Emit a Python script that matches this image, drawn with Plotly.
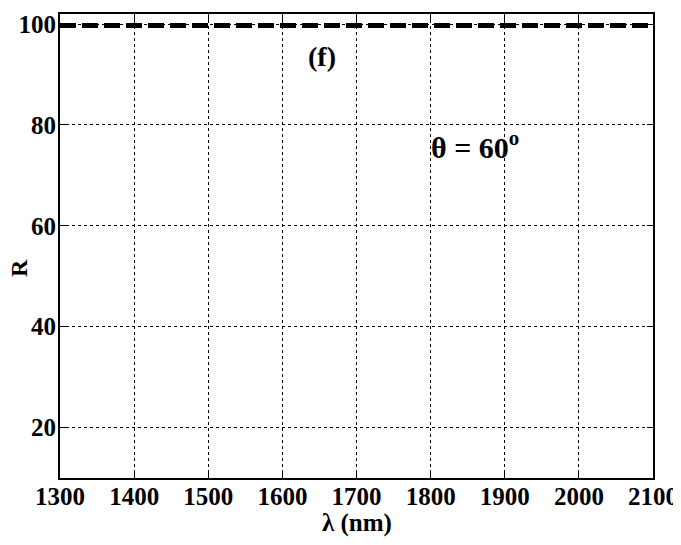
import plotly.graph_objects as go

wavelength_nm = [1300, 1400, 1500, 1600, 1700, 1800, 1900, 2000, 2100]
reflectance = [99.7, 99.7, 99.7, 99.7, 99.7, 99.7, 99.7, 99.7, 99.7]
x_ticks = [1300, 1400, 1500, 1600, 1700, 1800, 1900, 2000, 2100]
y_ticks = [20, 40, 60, 80, 100]

FONT = "Liberation Serif, Times New Roman, serif"

fig = go.Figure()
fig.add_trace(go.Scatter(
    x=wavelength_nm, y=reflectance, mode="lines",
    line=dict(color="black", width=5, dash="16px,6px"),
    showlegend=False,
))

axis_common = dict(
    showline=True, linecolor="black", linewidth=2, mirror="ticks",
    ticks="inside", ticklen=6, tickwidth=1, tickcolor="black",
    showgrid=True, gridcolor="black", gridwidth=1, griddash="dot",
    zeroline=False, automargin=False, ticklabeloverflow="allow",
    tickfont=dict(family=FONT, size=25, color="black", weight="bold"),
)

fig.update_xaxes(range=[1300, 2100], tickvals=x_ticks, ticklabelstandoff=-5, **axis_common)
fig.update_yaxes(range=[10, 102], tickvals=y_ticks, ticklabelstandoff=-3, **axis_common)

# axis titles as annotations placed in paper coordinates
fig.add_annotation(xref="paper", yref="paper", x=0.5, y=-0.096, text="λ (nm)",
                   showarrow=False, yanchor="middle",
                   font=dict(family=FONT, size=25, color="black", weight="bold"))
fig.add_annotation(xref="paper", yref="paper", x=-0.069, y=0.4526, text="R",
                   showarrow=False, textangle=-90, xanchor="center", yanchor="middle",
                   font=dict(family=FONT, size=24, color="black", weight="bold"))

fig.add_annotation(x=1653, y=93.5, text="(f)", showarrow=False,
                   font=dict(family=FONT, size=28, color="black", weight="bold"))
fig.add_annotation(x=1798, y=76, text="θ = 60<sup>o</sup>", showarrow=False,
                   xanchor="left",
                   font=dict(family=FONT, size=30, color="black", weight="bold"))

# the page body has an 8px margin, so the figure is sized and offset to compensate
fig.update_layout(
    width=673, height=529,
    margin=dict(l=52, r=28, t=6, b=59),
    plot_bgcolor="white", paper_bgcolor="white",
)

fig.write_html("out.html")
